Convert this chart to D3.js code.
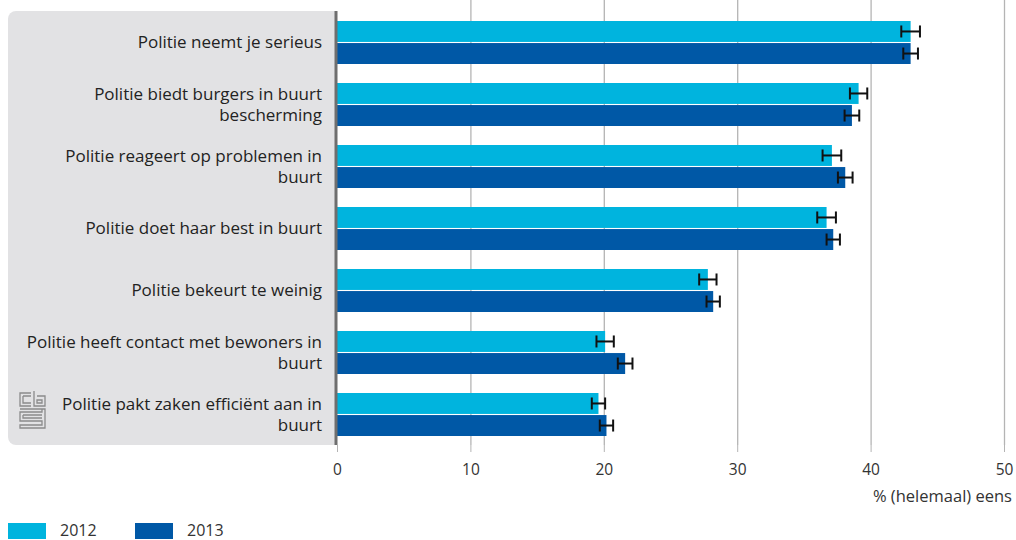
<!DOCTYPE html>
<html><head><meta charset="utf-8">
<script src="https://cdn.jsdelivr.net/npm/d3@7"></script>
<style>body{margin:0;background:#fff}svg{display:block}text{font-family:"Open Sans",sans-serif;}</style>
</head><body><svg id="c" width="1016" height="540"></svg>
<script>
const categories = [
  ["Politie neemt je serieus"],
  ["Politie biedt burgers in buurt","bescherming"],
  ["Politie reageert op problemen in","buurt"],
  ["Politie doet haar best in buurt"],
  ["Politie bekeurt te weinig"],
  ["Politie heeft contact met bewoners in","buurt"],
  ["Politie pakt zaken efficiënt aan in","buurt"]
];
const series = ["2012","2013"];
const values2012 = [43.0, 39.1, 37.1, 36.7, 27.8, 20.1, 19.6];
const values2013 = [43.0, 38.6, 38.1, 37.2, 28.2, 21.6, 20.2];
const err2012 = [0.7, 0.65, 0.7, 0.7, 0.65, 0.65, 0.5];
const err2013 = [0.55, 0.55, 0.55, 0.5, 0.5, 0.55, 0.5];
const ticks = [0,10,20,30,40,50];
const colors = ["#00b4de","#0058a6"];

const svg = d3.select("#c");
const x = d3.scaleLinear().domain([0,50]).range([337,1004]);
const y = d3.scaleBand().domain(d3.range(categories.length)).range([11,445]).paddingInner(0).paddingOuter(0);
const sub = d3.scaleBand().domain(series).range([10, y.bandwidth()-9]).paddingInner(0.05);

// panel
svg.append("rect").attr("x",8).attr("y",11).attr("width",340).attr("height",434).attr("rx",8).attr("fill","#e2e2e4");
svg.append("rect").attr("x",337).attr("y",0).attr("width",679).attr("height",446).attr("fill","#fff");

// grid
svg.append("g").selectAll("line").data(ticks.slice(1)).join("line")
  .attr("x1",d=>x(d)+0.5).attr("x2",d=>x(d)+0.5).attr("y1",0).attr("y2",445)
  .attr("stroke","#b4b4b4").attr("stroke-width",1.3);

// axis
const ax = svg.append("g").attr("transform","translate(0,445)")
  .call(d3.axisBottom(x).tickValues(ticks).tickSize(7).tickPadding(12).tickFormat(d3.format("d")));
ax.select(".domain").remove();
ax.selectAll("line").attr("stroke","#b4b4b4");
ax.selectAll("text").attr("font-size",15.5).attr("fill","#333").attr("font-family","'Open Sans',sans-serif");

// bars
const data = [];
categories.forEach((c,i)=>{
  data.push({i,s:"2012",v:values2012[i],e:err2012[i],col:colors[0]});
  data.push({i,s:"2013",v:values2013[i],e:err2013[i],col:colors[1]});
});
svg.append("g").selectAll("rect").data(data).join("rect")
  .attr("x",x(0)).attr("y",d=>y(d.i)+sub(d.s)).attr("width",d=>x(d.v)-x(0)).attr("height",sub.bandwidth())
  .attr("fill",d=>d.col);

// error bars
const eg = svg.append("g").attr("stroke","#111").attr("stroke-width",2);
data.forEach(d=>{
  const cy = y(d.i)+sub(d.s)+sub.bandwidth()/2;
  eg.append("line").attr("x1",x(d.v-d.e)).attr("x2",x(d.v+d.e)).attr("y1",cy).attr("y2",cy);
  eg.append("line").attr("x1",x(d.v-d.e)).attr("x2",x(d.v-d.e)).attr("y1",cy-6).attr("y2",cy+6);
  eg.append("line").attr("x1",x(d.v+d.e)).attr("x2",x(d.v+d.e)).attr("y1",cy-6).attr("y2",cy+6);
});

// left axis line
svg.append("line").attr("x1",336).attr("x2",336).attr("y1",11).attr("y2",445).attr("stroke","#6e6e6e").attr("stroke-width",3);

// category labels
const lg = svg.append("g");
categories.forEach((c,i)=>{
  const mid = y(i)+y.bandwidth()/2;
  const lh = 21;
  c.forEach((t,k)=>{
    lg.append("text").attr("x",322).attr("y",mid + (k-(c.length-1)/2)*lh + 6)
      .attr("text-anchor","end").attr("font-size",17).attr("fill","#222").text(t);
  });
});

// cbs logo
const logo = svg.append("g").attr("fill","none").attr("stroke","#8a8a8a").attr("stroke-width",1.3);
logo.append("path").attr("d","M31,393 h-11 v13 h11 M23,396 h8 M23,396 v7 h8 M34,391 v15 h11 v-10 h-8 M37,400 h5 v3 h-5 z M20,409 h25 v19 h-25 v-3 h22 v-4 h-22 v-9 h22 v-3 h-22 z M23,415 h19 M23,415 v3 h19");

// axis title
svg.append("text").attr("x",1012).attr("y",502).attr("text-anchor","end").attr("font-size",16.5).attr("fill","#333").text("% (helemaal) eens");

// legend
series.forEach((s,k)=>{
  const lx = 8 + k*127;
  svg.append("rect").attr("x",lx).attr("y",523).attr("width",38).attr("height",16).attr("fill",colors[k]);
  svg.append("text").attr("x",lx+52).attr("y",536).attr("font-size",16).attr("fill","#333").text(s);
});
</script></body></html>
